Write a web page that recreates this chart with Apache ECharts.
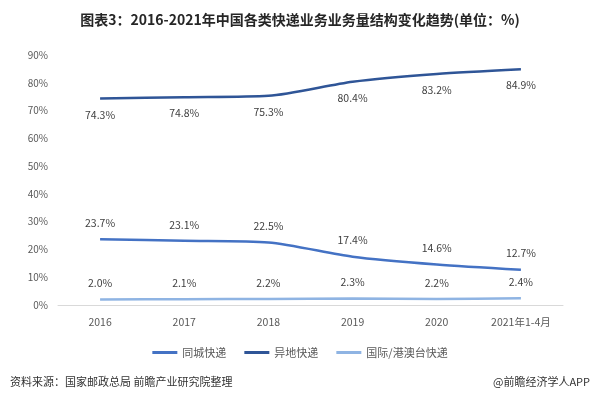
<!DOCTYPE html>
<html style="height:100%;width:100%;">
<head>
  <meta charset="utf-8">
  <title>快递业务量结构</title>
  <script src="https://cdn.jsdelivr.net/npm/echarts@6/dist/echarts.min.js"></script>
</head>
<body style="margin:0px;height:100%;width:100%;background:#fff;">
  <div id="main" style="width:600px;height:397px"></div>
  <script type="text/javascript" charset="utf-8">
    // 数据
    var categories = ['2016', '2017', '2018', '2019', '2020', '2021年1-4月'];
    var tongCheng = [23.7, 23.1, 22.5, 17.4, 14.6, 12.7]; // 同城快递
    var yiDi = [74.3, 74.8, 75.3, 80.4, 83.2, 84.9]; // 异地快递
    var guoJi = [2.0, 2.1, 2.2, 2.3, 2.2, 2.4]; // 国际/港澳台快递
    var seriesNames = ['同城快递', '异地快递', '国际/港澳台快递'];

    var font = '"Noto Sans CJK SC", "Microsoft YaHei", sans-serif';
    var myChart = echarts.init(document.getElementById('main'));

    function makeSeries(name, data, color, pos) {
      return {
        name: name,
        type: 'line',
        data: data,
        smooth: 0.25,
        symbol: 'circle',
        symbolSize: 0, // 不显示拐点，但保留标签
        showSymbol: true,
        lineStyle: { color: color, width: 2.5 },
        itemStyle: { color: color },
        label: {
          show: true,
          position: pos,
          distance: 11,
          formatter: function (p) { return p.value.toFixed(1) + '%'; },
          color: '#404040',
          fontSize: 10.5,
          fontFamily: font
        }
      };
    }

    var option = {
      animation: false,
      title: [{
        text: '图表3：2016-2021年中国各类快递业务业务量结构变化趋势(单位：%)',
        left: 'center',
        top: 8,
        textStyle: { fontSize: 14, fontWeight: 'bold', color: '#262626', fontFamily: font }
      }, {
        text: '资料来源：国家邮政总局 前瞻产业研究院整理',
        left: 5,
        top: 371,
        textStyle: { fontSize: 11, fontWeight: 'normal', color: '#333', fontFamily: font }
      }, {
        text: '@前瞻经济学人APP',
        right: 5,
        top: 371,
        textStyle: { fontSize: 11, fontWeight: 'normal', color: '#333', fontFamily: font }
      }],
      legend: {
        data: seriesNames,
        top: 342,
        left: 'center',
        itemWidth: 25,
        itemHeight: 3,
        itemGap: 18,
        icon: 'rect',
        textStyle: { fontSize: 11, color: '#595959', fontFamily: font }
      },
      grid: { left: 58, right: 37, top: 55, bottom: 92 },
      xAxis: {
        type: 'category',
        data: categories,
        axisLine: { lineStyle: { color: '#d9d9d9' } },
        axisTick: { show: false },
        axisLabel: { color: '#595959', fontSize: 10.5, margin: 12, fontFamily: font }
      },
      yAxis: {
        type: 'value',
        min: 0,
        max: 90,
        interval: 10,
        axisLine: { show: false },
        axisTick: { show: false },
        splitLine: { show: false },
        axisLabel: { formatter: '{value}%', color: '#595959', fontSize: 10, margin: 10, fontFamily: font }
      },
      series: [
        makeSeries(seriesNames[0], tongCheng, '#4472c4', 'top'),
        makeSeries(seriesNames[1], yiDi, '#2f5597', 'bottom'),
        makeSeries(seriesNames[2], guoJi, '#8fb4e3', 'top')
      ]
    };

    myChart.setOption(option, true);
  </script>
</body>
</html>
